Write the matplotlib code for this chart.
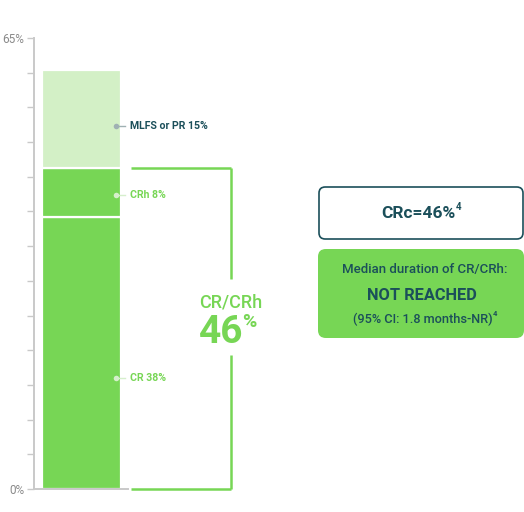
import matplotlib
matplotlib.use("Agg")
import matplotlib.pyplot as plt
from matplotlib.patches import FancyBboxPatch

plt.rcParams['font.family'] = ['Roboto', 'DejaVu Sans']

# data
segments = ["CR", "CRh", "MLFS or PR"]
heights = [39.2, 7.0, 14.2]          # bar segment heights (%)
label_texts = ["CR 38%", "CRh 8%", "MLFS or PR 15%"]
combined_label = "CR/CRh"
combined_value = "46"
y_ticks = [0, 5, 10, 15, 20, 25, 30, 35, 40, 45, 50, 55, 60, 65]
y_tick_labels = ["0%"] + [""] * 12 + ["65%"]

GREEN = "#77d655"
LIGHT = "#d3f0c6"
DARK = "#1b4f5a"
colors = [GREEN, GREEN, LIGHT]
label_colors = [GREEN, GREEN, DARK]
dot_colors = ["#d6efcc", "#d6efcc", "#9fb1b3"]
label_y = [16.0, 42.4, 52.3]

W, H = 524, 512
fig = plt.figure(figsize=(W / 100, H / 100), dpi=100)
ax = fig.add_axes([34 / W, 23 / H, 94 / W, 451 / H])
ax.set_xlim(0, 94)
ax.set_ylim(0, 65)

bottom = 0
for h, c in zip(heights, colors):
    ax.bar(8, h, width=79, bottom=bottom, align="edge", color=c,
           edgecolor="white", linewidth=1.6)
    bottom += h

for s in ["top", "right"]:
    ax.spines[s].set_visible(False)
for s in ["left", "bottom"]:
    ax.spines[s].set_color("#c9c9c9")
    ax.spines[s].set_linewidth(1.4)
ax.set_xticks([])
ax.set_yticks(y_ticks)
ax.set_yticklabels(y_tick_labels)
ax.tick_params(axis="y", length=5, width=1.0, color="#c9c9c9",
               labelcolor="#8a8a8a", labelsize=8.5, pad=2)

# segment labels
for t, c, dc, yy in zip(label_texts, label_colors, dot_colors, label_y):
    ax.plot([82, 91], [yy, yy], color=dc, lw=1.0, clip_on=False)
    ax.plot(82, yy, "o", ms=4, color=dc, mec="none", clip_on=False)
    ax.text(96, yy, t, color=c, fontsize=7.6, fontweight="bold",
            va="center", ha="left", clip_on=False)

# bracket
top = heights[0] + heights[1]
gap_lo, gap_hi = 19.3, 30.2
lk = dict(color=GREEN, lw=1.8, clip_on=False, solid_capstyle="butt")
ax.plot([97, 197], [0, 0], **lk)
ax.plot([197, 197], [0, gap_lo], **lk)
ax.plot([197, 197], [gap_hi, top], **lk)
ax.plot([97, 197], [top, top], **lk)
ax.text(197, 26.9, combined_label, color=GREEN, fontsize=13,
        fontweight="medium", ha="center", va="center", clip_on=False)
ax.text(209, 22.5, combined_value, color=GREEN, fontsize=28,
        fontweight="bold", ha="right", va="center", clip_on=False)
ax.text(208.5, 24.0, "%", color=GREEN, fontsize=14,
        fontweight="bold", ha="left", va="center", clip_on=False)

# boxes (figure pixel coords)
def fx(x):
    return x / W

def fy(y):
    return 1 - y / H

b1 = FancyBboxPatch((fx(319), fy(239)), fx(523) - fx(319), fy(187) - fy(239),
                    boxstyle="round,pad=0,rounding_size=0.012",
                    transform=fig.transFigure, facecolor="white",
                    edgecolor=DARK, linewidth=1.2)
fig.patches.append(b1)
fig.text(fx(456), fy(213), "CRc=46%", color=DARK, fontsize=12.5,
         fontweight="bold", ha="right", va="center")
fig.text(fx(456), fy(207), "4", color=DARK, fontsize=7,
         fontweight="bold", ha="left", va="center")

b2 = FancyBboxPatch((fx(318), fy(338)), fx(524) - fx(318), fy(249) - fy(338),
                    boxstyle="round,pad=0,rounding_size=0.015",
                    transform=fig.transFigure, facecolor=GREEN,
                    edgecolor="none")
fig.patches.append(b2)
fig.text(fx(424.5), fy(270), "Median duration of CR/CRh:", color=DARK,
         fontsize=9.5, fontweight="medium", ha="center", va="center")
fig.text(fx(422), fy(296), "NOT REACHED", color=DARK, fontsize=11.8,
         fontweight="bold", ha="center", va="center")
fig.text(fx(493), fy(319), "(95% CI: 1.8 months-NR)", color=DARK,
         fontsize=9.2, fontweight="medium", ha="right", va="center")
fig.text(fx(493), fy(314), "4", color=DARK,
         fontsize=5.5, fontweight="bold", ha="left", va="center")

fig.savefig("out.png", dpi=100)
